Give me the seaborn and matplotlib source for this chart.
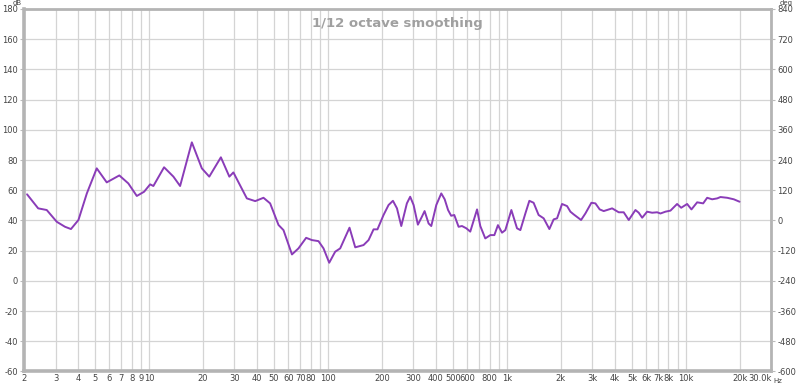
import numpy as np
import pandas as pd
import seaborn as sns
import matplotlib
matplotlib.use('Agg')
import matplotlib.pyplot as plt

# 频响数据 (Hz, dB)
freq = [2.08, 2.40, 2.68, 3.05, 3.39, 3.66, 4.03, 4.49, 5.10, 5.80,
        6.82, 7.66, 8.54, 9.38, 10.14, 10.57, 12.13, 13.68, 14.91, 17.34,
        19.72, 21.7, 25.2, 28.1, 29.6, 35.2, 39.2, 43.6, 47.5, 52.9,
        56.4, 62.9, 68.4, 75.5, 81.3, 88.5, 94.4, 101.6, 109.7, 117,
        131.9, 142, 158, 168.6, 179.8, 189, 204.4, 218, 230.7, 243,
        256.8, 276, 288, 301, 318, 335, 346.7, 365, 377.8, 403,
        429.7, 449, 469, 488, 508, 537, 561, 593, 624, 681,
        710, 757, 808, 851, 891, 939, 980, 1059, 1139, 1189,
        1268, 1335, 1410, 1504, 1605, 1727, 1825, 1907, 2033, 2169,
        2264, 2362, 2597, 2745, 2966, 3123, 3301, 3476, 3874, 4217,
        4496, 4797, 5228, 5455, 5701, 6077, 6482, 6913, 7212, 7693,
        8205, 8935, 9420, 10170, 10750, 11570, 12500, 13160, 14030, 14970,
        15620, 17030, 18540, 19960]
spl = [57.3, 48.0, 46.9, 39.1, 35.8, 34.3, 40.3, 57.9, 74.5, 65.2,
       69.8, 64.5, 56.2, 59.0, 63.9, 62.8, 75.2, 69.0, 62.8, 91.7,
       74.5, 69.0, 81.8, 69.0, 71.8, 54.6, 52.8, 55.0, 51.3, 37.0,
       33.6, 17.5, 21.5, 28.5, 27.0, 26.3, 21.5, 12.0, 19.3, 21.5,
       35.2, 22.2, 23.7, 27.0, 34.1, 34.1, 43.6, 50.2, 53.0, 48.0,
       36.3, 51.3, 55.7, 50.2, 37.2, 42.5, 46.2, 38.0, 36.3, 50.2,
       57.9, 54.0, 46.9, 43.1, 43.6, 35.8, 36.3, 34.8, 32.6, 47.3,
       36.3, 28.1, 30.3, 30.3, 36.9, 31.9, 33.6, 46.9, 34.8, 33.6,
       44.6, 53.0, 51.7, 43.6, 41.4, 34.3, 40.7, 41.4, 50.9, 49.5,
       45.8, 44.0, 40.3, 44.6, 51.7, 51.3, 47.3, 46.2, 48.0, 45.4,
       45.4, 40.3, 46.9, 45.1, 41.8, 45.8, 45.1, 45.4, 44.6, 45.8,
       46.5, 50.9, 48.4, 50.9, 47.3, 52.0, 51.3, 55.0, 54.0, 54.6,
       55.5, 55.0, 54.0, 52.4]

# 坐标轴刻度
db_ticks = list(range(-60, 181, 20))
deg_ticks = list(range(-600, 841, 120))
x_ticks = [2, 3, 4, 5, 6, 7, 8, 9, 10, 20, 30, 40, 50, 60, 70, 80, 90,
           100, 200, 300, 400, 500, 600, 700, 800, 900, 1000, 2000, 3000,
           4000, 5000, 6000, 7000, 8000, 9000, 10000, 20000, 30000]
x_labels = ['2', '3', '4', '5', '6', '7', '8', '9', '10', '20', '30', '40',
            '50', '60', '70', '80', '', '100', '200', '300', '400', '500',
            '600', '', '800', '', '1k', '2k', '3k', '4k', '5k', '6k', '7k',
            '8k', '', '10k', '20k', '30.0k']

df = pd.DataFrame({'freq': freq, 'spl': spl})

sns.set_style('white')
plt.rcParams['font.family'] = ['DejaVu Sans']
plt.rcParams['axes.unicode_minus'] = False

fig = plt.figure(figsize=(8, 3.84), dpi=100)
ax = fig.add_axes([0.03, 0.0326, 0.934, 0.944])

sns.lineplot(data=df, x='freq', y='spl', ax=ax, color='#8a3cb8', linewidth=1.4)

ax.set_xscale('log')
ax.set_xlim(2, 30000)
ax.set_ylim(-60, 180)
ax.set_xticks(x_ticks)
ax.set_xticklabels(x_labels)
ax.get_xticklabels()[-1].set_ha('right')
ax.xaxis.set_minor_locator(matplotlib.ticker.NullLocator())
ax.set_yticks(db_ticks)
ax.set_xlabel('')
ax.set_ylabel('')
ax.grid(True, color='#d4d4d4', linewidth=0.9)
ax.tick_params(axis='x', labelsize=6, labelcolor='#444444', length=0, pad=1.5)
ax.tick_params(axis='y', labelsize=6, labelcolor='#444444', length=3,
               color='#bbbbbb', pad=1.5)
for name, sp in ax.spines.items():
    sp.set_color('#b4b4b4')
    sp.set_linewidth(2)
ax.spines['left'].set_linewidth(2.6)
ax.spines['bottom'].set_linewidth(2.6)

# 右侧相位轴
ax2 = ax.twinx()
ax2.set_ylim(-600, 840)
ax2.set_yticks(deg_ticks)
ax2.tick_params(axis='y', labelsize=6, labelcolor='#444444', length=3,
                color='#bbbbbb', pad=1.5)
for sp in ax2.spines.values():
    sp.set_visible(False)

ax.text(0.5, 0.977, '1/12 octave smoothing', transform=ax.transAxes,
        ha='center', va='top', fontsize=9.5, fontweight='bold', color='#a0a0a0')
fig.text(0.021, 1.0, 'dB', ha='center', va='top', fontsize=5, color='#444444')
fig.text(0.983, 1.0, 'deg', ha='center', va='top', fontsize=5, color='#444444')
fig.text(0.9665, 0.0, 'Hz', ha='left', va='bottom', fontsize=5, color='#444444')

plt.savefig('out.png', dpi=100)
